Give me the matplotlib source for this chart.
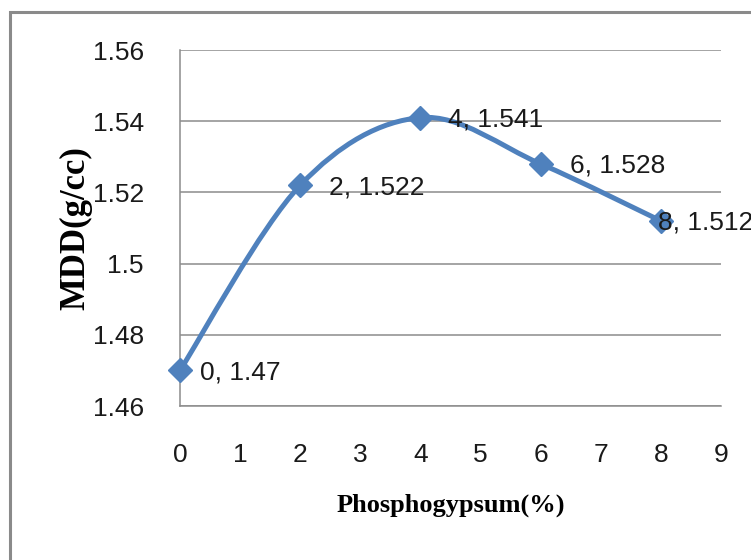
"""
MDD vs Phosphogypsum content - smoothed line chart
"""
import numpy as np
import matplotlib
matplotlib.use("Agg")
import matplotlib.pyplot as plt
from matplotlib.path import Path
from matplotlib.patches import PathPatch, Rectangle

plt.rcParams['font.family'] = ['Liberation Sans', 'DejaVu Sans']

# data
phospho = [0, 2, 4, 6, 8]
mdd = [1.47, 1.522, 1.541, 1.528, 1.512]
point_labels = ['0, 1.47', '2, 1.522', '4, 1.541', '6, 1.528', '8, 1.512']
x_ticks = list(range(0, 10))
y_ticks = [1.46, 1.48, 1.5, 1.52, 1.54, 1.56]
y_tick_labels = ['1.46', '1.48', '1.5', '1.52', '1.54', '1.56']

LINE_BLUE = '#4F81BD'
GRID_GRAY = '#8C8C8C'


def smooth_path(xs, ys):
    """Excel style smoothed line: cubic bezier segments through the points"""
    pts = np.column_stack([xs, ys]).astype(float)
    n = len(pts)
    verts = [pts[0]]
    codes = [Path.MOVETO]
    for i in range(n - 1):
        p0 = pts[i - 1] if i > 0 else pts[i]
        p1 = pts[i]
        p2 = pts[i + 1]
        p3 = pts[i + 2] if i + 2 < n else pts[i + 1]
        c1 = p1 + (p2 - p0) / 6.0
        c2 = p2 - (p3 - p1) / 6.0
        verts += [c1, c2, p2]
        codes += [Path.CURVE4] * 3
    return Path(verts, codes)


fig = plt.figure(figsize=(7.51, 5.60), dpi=100)
ax = fig.add_axes([180 / 751, 1 - 406 / 560, (721 - 180) / 751, (406 - 50) / 560])

# outer chart frame (cropped at right / bottom, as in the source image)
fig.patches.append(Rectangle((10 / 751, -0.05), 1.2, 0.05 + (1 - 12 / 560),
                             transform=fig.transFigure, fill=False,
                             edgecolor='#8A8A8A', linewidth=2.2))

patch = PathPatch(smooth_path(phospho, mdd), facecolor='none',
                  edgecolor=LINE_BLUE, linewidth=3.6, capstyle='round', zorder=3)
ax.add_patch(patch)
ax.plot(phospho, mdd, linestyle='none', marker='D', markersize=12,
        color=LINE_BLUE, zorder=4, clip_on=False)

# data labels (last one runs off the chart edge, like the original)
offsets = [20, 29, 28, 29, -3]
for xv, yv, lab, off in zip(phospho, mdd, point_labels, offsets):
    ax.annotate(lab, (xv, yv), xytext=(off, -2), textcoords='offset pixels',
                ha='left', va='center', fontsize=19, color='#1a1a1a',
                annotation_clip=False, zorder=5)

ax.set_xlim(0, 9)
ax.set_ylim(1.46, 1.56)
ax.set_xticks(x_ticks)
ax.set_yticks(y_ticks)
ax.set_yticklabels(y_tick_labels)
ax.tick_params(axis='both', length=0, labelsize=19, colors='#1a1a1a')
ax.tick_params(axis='x', pad=27)
ax.tick_params(axis='y', pad=26)

ax.grid(axis='y', color=GRID_GRAY, linewidth=1.1)
ax.set_axisbelow(True)
for s in ['top', 'right']:
    ax.spines[s].set_visible(False)
for s in ['left', 'bottom']:
    ax.spines[s].set_color(GRID_GRAY)
    ax.spines[s].set_linewidth(1.1)

ax.set_xlabel('Phosphogypsum(%)', fontsize=19, fontweight='bold',
              family=['Liberation Serif', 'DejaVu Serif'], labelpad=19)
ax.set_ylabel('MDD(g/cc)', fontsize=25, fontweight='bold',
              family=['Liberation Serif', 'DejaVu Serif'], labelpad=0)

fig.savefig('out.png', dpi=100)
